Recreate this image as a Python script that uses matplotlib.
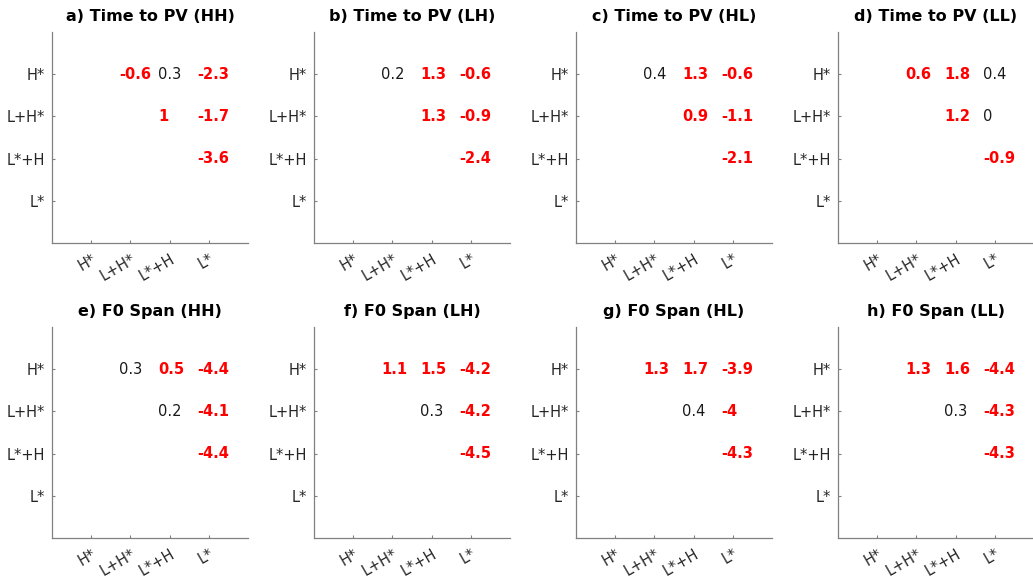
import matplotlib.pyplot as plt

# tone categories (rows and columns of each comparison grid)
categories = ['H*', 'L+H*', 'L*+H', 'L*']

titles = ['a) Time to PV (HH)', 'b) Time to PV (LH)', 'c) Time to PV (HL)', 'd) Time to PV (LL)',
          'e) F0 Span (HH)', 'f) F0 Span (LH)', 'g) F0 Span (HL)', 'h) F0 Span (LL)']

# pairs in the upper triangle: (row, column) indices into categories
pairs = [(0, 1), (0, 2), (0, 3), (1, 2), (1, 3), (2, 3)]

# estimates for each pair, one list per panel
vals_a = [-0.6, 0.3, -2.3, 1.0, -1.7, -3.6]
vals_b = [0.2, 1.3, -0.6, 1.3, -0.9, -2.4]
vals_c = [0.4, 1.3, -0.6, 0.9, -1.1, -2.1]
vals_d = [0.6, 1.8, 0.4, 1.2, 0.0, -0.9]
vals_e = [0.3, 0.5, -4.4, 0.2, -4.1, -4.4]
vals_f = [1.1, 1.5, -4.2, 0.3, -4.2, -4.5]
vals_g = [1.3, 1.7, -3.9, 0.4, -4.0, -4.3]
vals_h = [1.3, 1.6, -4.4, 0.3, -4.3, -4.3]

# significant (red, bold) or not (black)
sig_a = [1, 0, 1, 1, 1, 1]
sig_b = [0, 1, 1, 1, 1, 1]
sig_c = [0, 1, 1, 1, 1, 1]
sig_d = [1, 1, 0, 1, 0, 1]
sig_e = [0, 1, 1, 0, 1, 1]
sig_f = [1, 1, 1, 0, 1, 1]
sig_g = [1, 1, 1, 0, 1, 1]
sig_h = [1, 1, 1, 0, 1, 1]

all_vals = [vals_a, vals_b, vals_c, vals_d, vals_e, vals_f, vals_g, vals_h]
all_sig = [sig_a, sig_b, sig_c, sig_d, sig_e, sig_f, sig_g, sig_h]

W, H = 1033, 577
fig = plt.figure(figsize=(W / 100, H / 100), dpi=100)

lefts = [52, 314, 576, 838]
rows = [(32, 243), (327, 538)]
axw = 196

for i in range(8):
    top, bot = rows[i // 4]
    left = lefts[i % 4]
    ax = fig.add_axes([left / W, 1 - bot / H, axw / W, (bot - top) / H])
    ax.set_xlim(0, 5)
    ax.set_ylim(5, 0)
    for s in ['top', 'right']:
        ax.spines[s].set_visible(False)
    for s in ['left', 'bottom']:
        ax.spines[s].set_color('#808080')
        ax.spines[s].set_linewidth(0.9)
    pos = range(1, len(categories) + 1)
    ax.set_xticks(list(pos))
    ax.set_yticks(list(pos))
    ax.set_xticklabels(categories, rotation=30, ha='right', va='top',
                       rotation_mode='anchor', fontsize=10.5, color='#262626')
    ax.set_yticklabels(categories, fontsize=10.5, color='#262626')
    ax.tick_params(direction='in', length=2.5, width=0.8, color='#808080')
    ax.tick_params(axis='x', pad=6)
    ax.tick_params(axis='y', pad=5)
    ax.set_title(titles[i], fontsize=11.5, fontweight='bold', pad=8)

    for (r, c), v, s in zip(pairs, all_vals[i], all_sig[i]):
        ax.text(c + 1 - 0.29, r + 1, '%g' % v, ha='left', va='center', fontsize=10.5,
                color='red' if s else '#1a1a1a',
                fontweight='bold' if s else 'normal')

fig.savefig('out.png', dpi=100)
